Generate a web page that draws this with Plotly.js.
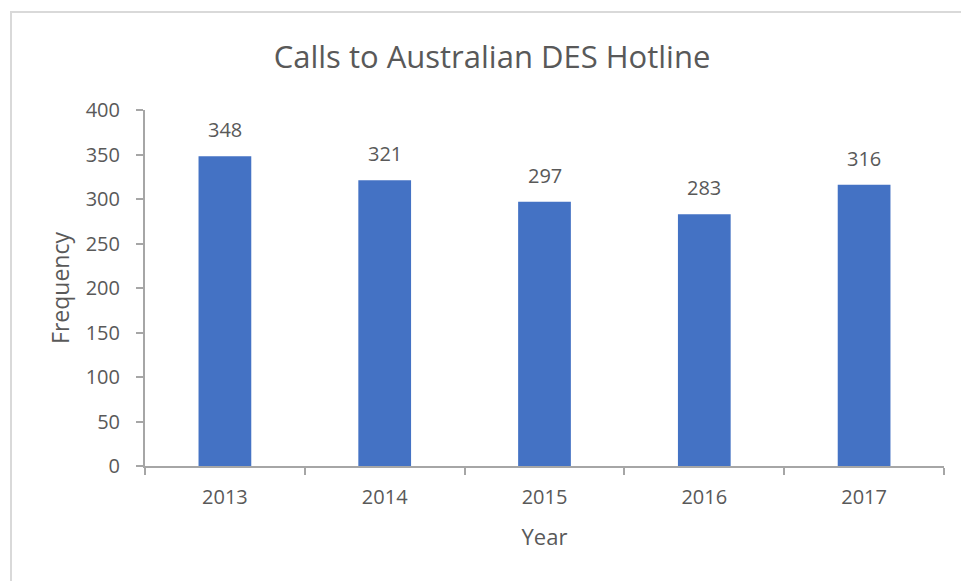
<!DOCTYPE html>
<html>
<head>
<meta charset="utf-8">
<script src="https://cdn.plot.ly/plotly-3.0.1.min.js"></script>
<style>
  html, body { margin: 0; padding: 0; background: #fff; overflow: hidden; }
  #wrap { position: relative; width: 961px; height: 581px; }
  #chart { position: absolute; left: 0; top: 0; width: 961px; height: 581px; }
  #frame { position: absolute; left: 10px; top: 11px; width: 960px; height: 580px;
           border-top: 2px solid #d9d9d9; border-left: 2px solid #d9d9d9; pointer-events: none; }
</style>
</head>
<body>
<div id="wrap">
  <div id="chart"></div>
  <div id="frame"></div>
</div>
<script>
const years = ['2013', '2014', '2015', '2016', '2017'];
const calls = [348, 321, 297, 283, 316];
const yTicks = [0, 50, 100, 150, 200, 250, 300, 350, 400];

const FONT = '"Open Sans", "Noto Sans", sans-serif';
const TXT = '#595959';
const AX = '#a6a6a6';

const trace = {
  type: 'bar',
  x: years,
  y: calls,
  marker: { color: '#4472C4' },
  width: 0.33,
  hoverinfo: 'x+y'
};

// annotations use the category index on the category axis
const annotations = years.map((yr, i) => ({
  x: i, y: calls[i], xref: 'x', yref: 'y',
  text: String(calls[i]), showarrow: false,
  yanchor: 'bottom', yshift: 11,
  font: { family: FONT, size: 20, color: TXT }
}));

const layout = {
  width: 961, height: 581,
  margin: { l: 145, r: 17, t: 110, b: 115 },
  paper_bgcolor: 'rgba(0,0,0,0)',
  plot_bgcolor: 'rgba(0,0,0,0)',
  showlegend: false,
  title: {
    text: 'Calls to Australian DES Hotline',
    font: { family: FONT, size: 31, color: TXT },
    xref: 'container', x: 0.512, xanchor: 'center',
    yref: 'container', y: 1 - 57 / 581, yanchor: 'middle'
  },
  xaxis: {
    type: 'category',
    range: [-0.5, years.length - 0.5],
    autorange: false,
    tickangle: 0,
    title: { text: 'Year', font: { family: FONT, size: 22, color: TXT }, standoff: 21 },
    tickfont: { family: FONT, size: 20, color: TXT },
    showline: true, linecolor: AX, linewidth: 2,
    ticks: 'outside', tickson: 'boundaries', ticklen: 7, tickcolor: AX, tickwidth: 2,
    ticklabelstandoff: 12,
    showgrid: false, zeroline: false
  },
  yaxis: {
    range: [0, 400],
    autorange: false,
    tickvals: yTicks,
    title: { text: 'Frequency', font: { family: FONT, size: 23, color: TXT }, standoff: 10 },
    tickfont: { family: FONT, size: 20, color: TXT },
    showline: true, linecolor: AX, linewidth: 2,
    ticks: 'outside', ticklen: 7, tickcolor: AX, tickwidth: 2,
    ticklabelstandoff: 12,
    showgrid: false, zeroline: false
  },
  annotations: annotations
};

Plotly.newPlot('chart', [trace], layout, { displayModeBar: false, staticPlot: true });
</script>
</body>
</html>
